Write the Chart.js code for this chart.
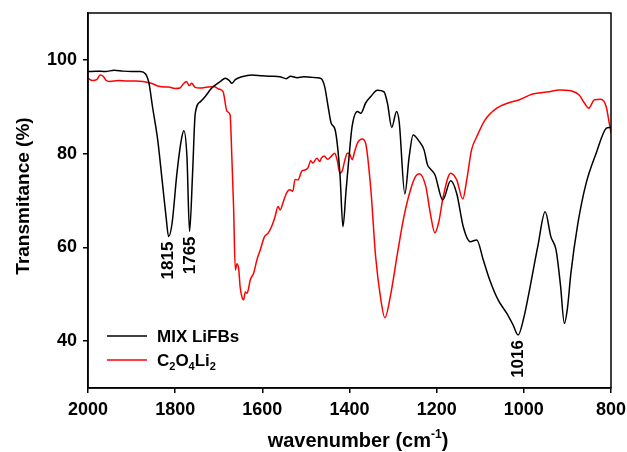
<!DOCTYPE html>
<html>
<head>
<meta charset="utf-8">
<script src="https://cdn.jsdelivr.net/npm/chart.js@4/dist/chart.umd.min.js"></script>
<style>
  html, body { margin: 0; padding: 0; background: #fff; }
  #wrap { width: 627px; height: 452px; }
</style>
</head>
<body>
<div id="wrap"><canvas id="irChart" width="627" height="452"></canvas></div>
<script>
// FTIR spectra: MIX LiFBs vs C2O4Li2

// wavenumber (cm-1) / transmittance (%) for the black trace
const mixWn = [2000,1980,1960,1940,1920,1900,1880,1868,1860,1852,1840,1830,1821,1815,1807,1796,1786,1780,1773,1767,1760,1754,1742,1731,1716,1696,1685,1676,1670,1662,1647,1624,1600,1580,1560,1545,1535,1520,1505,1490,1475,1465,1457,1449,1442,1433,1422,1415,1408,1401,1394,1382,1374,1363,1351,1336,1321,1313,1303,1292,1286,1273,1263,1254,1240,1229,1221,1215,1204,1186,1168,1154,1139,1123,1108,1093,1078,1059,1039,1025,1013,1000,987,968,951,938,926,916,907,900,892,876,857,834,811,804,800];
const mixT = [97.5,97.6,97.5,97.8,97.6,97.5,97.5,97.0,95.0,90.0,82.9,74.4,66.6,62.3,65.2,75.8,82.9,84.9,79.4,63.4,75.9,88.5,91.1,92.2,94.0,95.4,96.1,95.6,95.0,95.8,96.4,96.8,96.6,96.5,96.4,96.0,96.5,96.2,96.4,96.3,96.2,96.0,94.3,90.0,86.5,85.1,75.8,64.4,72.0,79.4,85.8,89.0,88.6,90.8,92.2,93.5,93.2,90.8,85.6,89.0,86.8,71.4,79.4,84.0,82.6,80.8,77.6,76.8,75.5,70.1,74.2,71.5,64.4,61.2,61.6,57.3,53.0,48.8,45.9,43.5,41.3,45.0,50.9,60.2,67.6,62.3,59.4,52.0,43.8,47.0,54.5,65.1,73.7,80.1,85.4,85.6,85.5];

// red trace
const oxWn = [2000,1990,1980,1972,1965,1958,1950,1930,1910,1890,1874,1855,1835,1815,1800,1789,1782,1774,1768,1762,1755,1743,1725,1712,1700,1690,1681,1674,1670,1666,1662,1658,1654,1651,1647,1643,1639,1635,1631,1628,1620,1612,1605,1595,1587,1579,1571,1564,1559,1553,1545,1537,1530,1525,1518,1510,1503,1495,1489,1484,1475,1468,1465,1458,1450,1442,1434,1428,1422,1416,1411,1405,1400,1394,1388,1382,1371,1363,1351,1340,1328,1319,1305,1290,1275,1260,1248,1240,1225,1215,1204,1195,1185,1168,1154,1140,1131,1120,1108,1089,1062,1036,1010,980,942,919,892,873,861,851,838,823,811,804,800];
const oxT = [96.1,95.6,95.8,96.8,96.5,95.6,95.4,95.6,95.5,95.5,95.4,95.0,94.3,94.2,93.9,94.0,94.8,95.4,94.5,95.0,94.2,94.0,94.2,94.3,93.8,93.2,89.0,88.3,79.4,68.7,55.2,56.5,55.2,51.6,49.5,48.8,50.5,50.2,51.5,53.0,54.5,57.5,59.4,62.3,63.0,64.4,66.5,68.7,68.0,69.4,71.5,72.3,72.0,74.5,74.4,76.2,76.5,77.0,78.5,78.0,79.0,78.3,79.0,79.5,78.8,79.4,80.1,78.5,75.8,76.5,78.5,80.1,80.0,78.7,80.5,82.2,83.1,82.2,72.3,58.0,48.8,45.0,50.2,58.7,66.6,72.3,75.2,75.7,73.0,67.5,63.1,65.5,70.8,75.8,74.4,70.3,74.4,80.8,83.6,87.2,89.7,90.8,91.5,92.7,93.2,93.6,93.4,92.5,90.8,89.7,91.5,91.6,90.0,86.5,84.4];

// axis ticks
const xTicks = [2000,1800,1600,1400,1200,1000,800];
const yTicks = [40,60,80,100];

// peak labels (written rotated under the black minima)
const peakLabels = ['1815','1765','1016'];
const peakWn = [1815,1766,1013];
const peakT = [62.3,63.4,41.3];

// legend entries, parts: [text, isSubscript]
const legendParts = [
  [['MIX LiFBs', false]],
  [['C', false], ['2', true], ['O', false], ['4', true], ['Li', false], ['2', true]]
];
const lineColors = ['#000000', '#ff0000'];

const FONT = "'Liberation Sans', Arial, Helvetica, sans-serif";

const toPoints = (xs, ys) => xs.map((x, i) => ({ x: x, y: ys[i] }));

// frame + titles + legend + peak labels
const extrasPlugin = {
  id: 'extras',
  afterDraw(chart) {
    const ctx = chart.ctx;
    const a = chart.chartArea;
    const xs = chart.scales.x, ys = chart.scales.y;
    ctx.save();

    // box round the plot
    ctx.strokeStyle = '#000';
    ctx.lineWidth = 1.5;
    ctx.strokeRect(a.left, a.top, a.right - a.left, a.bottom - a.top);

    ctx.fillStyle = '#000';

    // peak labels
    ctx.font = 'bold 17px ' + FONT;
    ctx.textAlign = 'right';
    ctx.textBaseline = 'middle';
    peakLabels.forEach((txt, i) => {
      const px = xs.getPixelForValue(peakWn[i]);
      const py = ys.getPixelForValue(peakT[i]) + 5;
      ctx.save();
      ctx.translate(px, py);
      ctx.rotate(-Math.PI / 2);
      ctx.fillText(txt, 0, 0);
      ctx.restore();
    });

    // legend
    ctx.textAlign = 'left';
    ctx.textBaseline = 'alphabetic';
    legendParts.forEach((parts, i) => {
      const ly = 336 + i * 24;
      ctx.strokeStyle = lineColors[i];
      ctx.lineWidth = 1.5;
      ctx.beginPath();
      ctx.moveTo(107, ly);
      ctx.lineTo(147, ly);
      ctx.stroke();
      let tx = 157;
      parts.forEach(p => {
        ctx.font = p[1] ? 'bold 11px ' + FONT : 'bold 17px ' + FONT;
        ctx.fillText(p[0], tx, p[1] ? ly + 10 : ly + 6);
        tx += ctx.measureText(p[0]).width;
      });
    });

    // x title with superscript
    const main = 'wavenumber (cm';
    ctx.font = 'bold 20px ' + FONT;
    const w1 = ctx.measureText(main).width;
    const w3 = ctx.measureText(')').width;
    ctx.font = 'bold 12px ' + FONT;
    const w2 = ctx.measureText('-1').width;
    let tx = 358 - (w1 + w2 + w3) / 2;
    const ty = 447;
    ctx.font = 'bold 20px ' + FONT;
    ctx.fillText(main, tx, ty);
    ctx.font = 'bold 12px ' + FONT;
    ctx.fillText('-1', tx + w1, ty - 9);
    ctx.font = 'bold 20px ' + FONT;
    ctx.fillText(')', tx + w1 + w2, ty);

    // y title
    ctx.save();
    ctx.translate(24, 196);
    ctx.rotate(-Math.PI / 2);
    ctx.textAlign = 'center';
    ctx.textBaseline = 'middle';
    ctx.font = 'bold 19px ' + FONT;
    ctx.fillText('Transmitance (%)', 0, 0);
    ctx.restore();

    ctx.restore();
  }
};

new Chart(document.getElementById('irChart'), {
  type: 'line',
  data: {
    datasets: [
      {
        label: 'MIX LiFBs',
        data: toPoints(mixWn, mixT),
        borderColor: lineColors[0],
        borderWidth: 1.5,
        pointRadius: 0,
        cubicInterpolationMode: 'monotone'
      },
      {
        label: 'C2O4Li2',
        data: toPoints(oxWn, oxT),
        borderColor: lineColors[1],
        borderWidth: 1.5,
        pointRadius: 0,
        cubicInterpolationMode: 'monotone'
      }
    ]
  },
  options: {
    responsive: false,
    animation: false,
    layout: { padding: { left: 0, right: 16, top: 13, bottom: 0 } },
    plugins: {
      legend: { display: false },
      tooltip: { enabled: false }
    },
    scales: {
      x: {
        type: 'linear',
        reverse: true,
        min: 800,
        max: 2000,
        afterBuildTicks: s => { s.ticks = xTicks.map(v => ({ value: v })); },
        afterFit: s => { s.height = 64; s.paddingLeft = 0; s.paddingRight = 0; },
        grid: { display: true, drawOnChartArea: false, drawTicks: true, tickLength: 5, color: '#000', lineWidth: 1.5 },
        border: { display: true, color: '#000', width: 1.5 },
        ticks: {
          color: '#000',
          padding: 6,
          maxRotation: 0,
          callback: v => String(v),
          font: { family: FONT, size: 18, weight: 'bold' }
        }
      },
      y: {
        min: 30,
        max: 110,
        afterBuildTicks: s => { s.ticks = yTicks.map(v => ({ value: v })); },
        afterFit: s => { s.width = 88; s.paddingTop = 0; s.paddingBottom = 0; },
        grid: { display: true, drawOnChartArea: false, drawTicks: true, tickLength: 5, color: '#000', lineWidth: 1.5 },
        border: { display: true, color: '#000', width: 1.5 },
        ticks: {
          color: '#000',
          padding: 6,
          callback: v => String(v),
          font: { family: FONT, size: 18, weight: 'bold' }
        }
      }
    }
  },
  plugins: [extrasPlugin]
});
</script>
</body>
</html>
